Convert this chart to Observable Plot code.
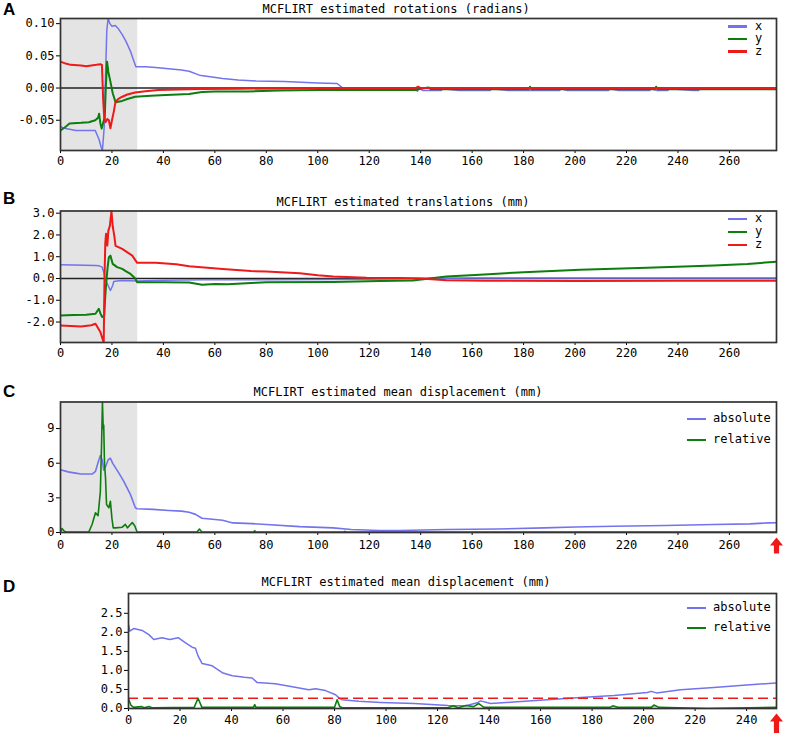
<!DOCTYPE html>
<html><head><meta charset="utf-8">
<script src="https://cdn.jsdelivr.net/npm/d3@7"></script>
<script src="https://cdn.jsdelivr.net/npm/@observablehq/plot@0.6"></script>
<style>
body{margin:0;background:#fff;}
#wrap{position:relative;width:786px;height:733px;overflow:hidden;background:#fff;}
.panel{position:absolute;left:0;}
.letter{position:absolute;left:3px;font:bold 17px "Liberation Sans",Arial,sans-serif;line-height:18px;color:#000;}
.legtext{position:absolute;font:12px "DejaVu Sans Mono",monospace;line-height:12px;color:#000;white-space:pre;}
.sw{position:absolute;height:2.5px;width:19px;}
</style></head><body><div id="wrap"></div>
<script>
// ---------- data (frame, value) ----------
const rotX = [[0,-0.060],[2,-0.063],[6,-0.066],[13.5,-0.066],[15,-0.080],[15.8,-0.092],[16.3,-0.097],[17,-0.060],[17.5,0.020],[18,0.090],[18.5,0.108],[19.2,0.100],[20,0.096],[21.3,0.097],[22.5,0.092],[24,0.083],[25.5,0.072],[27.2,0.057],[28.5,0.042],[29.3,0.033],[33,0.033],[37,0.032],[42,0.030],[47,0.028],[50,0.026],[54,0.020],[57.5,0.018],[63,0.015],[69,0.0125],[76,0.011],[87,0.010],[100,0.008],[107.5,0.007],[110,-0.001],[138,-0.001],[138.7,-0.005],[139.3,-0.001],[141,-0.004],[148,-0.004],[148.5,-0.001],[155,-0.004],[160,-0.004],[161,-0.004],[167,-0.004],[167.5,-0.001],[174,-0.004],[194,-0.004],[194.5,-0.001],[197,-0.004],[213,-0.004],[213.5,-0.001],[217,-0.004],[229,-0.004],[229.5,-0.001],[232,-0.004],[236,-0.004],[236.5,-0.001],[246,-0.004],[248,-0.004],[248.5,-0.001],[278.3,-0.001]];
const rotY = [[0,-0.066],[2,-0.060],[3.5,-0.055],[8,-0.054],[11,-0.053],[13.5,-0.050],[14.6,-0.046],[15,-0.040],[15.5,-0.055],[16,-0.063],[16.5,-0.055],[17.2,-0.045],[17.6,0.000],[18.1,0.041],[18.6,0.025],[19.4,0.010],[20.3,-0.008],[21.4,-0.022],[24,-0.020],[26,-0.017],[29,-0.0135],[35,-0.012],[41,-0.011],[50,-0.0094],[55,-0.006],[60,-0.0055],[73,-0.0052],[85,-0.004],[100,-0.003],[110,-0.003],[138,-0.003],[140,-0.001],[143,0.001],[144,-0.002],[182,-0.002],[182.5,0.002],[183,-0.002],[231,-0.002],[231.5,0.002],[232,-0.002],[278.3,-0.002]];
const rotZ = [[0,0.041],[2,0.038],[4,0.036],[8,0.035],[10,0.034],[12,0.035],[14,0.036],[15.5,0.037],[16.1,0.036],[16.3,0.015],[16.6,-0.020],[17,-0.045],[17.5,-0.053],[18.2,-0.048],[18.8,-0.050],[19.4,-0.0625],[20,-0.050],[20.7,-0.037],[21.4,-0.021],[22.5,-0.017],[24,-0.0135],[26,-0.010],[29,-0.0068],[33,-0.005],[38,-0.003],[50,-0.002],[55,-0.0015],[70,-0.001],[100,-0.0005],[110,0],[138,0],[139,0.002],[140,0],[278.3,0]];

const transX = [[0,0.63],[5,0.62],[13.6,0.60],[15,0.58],[16.2,0.52],[16.8,0.30],[17.5,-0.10],[18.5,-0.32],[19.4,-0.55],[20.3,-0.32],[20.7,-0.14],[22,-0.12],[24,-0.09],[30,-0.12],[40,-0.08],[55,-0.06],[80,-0.06],[106,-0.05],[120,-0.03],[140,0.0],[160,0.02],[200,0.02],[240,0.02],[278.3,0.02]];
const transY = [[0,-1.70],[5,-1.68],[10,-1.66],[13.6,-1.62],[14.9,-1.39],[15.5,-1.60],[16.2,-1.77],[17,-1.70],[17.3,-1.00],[17.7,-0.32],[18.3,0.50],[18.8,0.98],[19.4,1.05],[20.3,0.67],[22,0.52],[24,0.44],[25.5,0.33],[27.2,0.21],[28.9,0.02],[29.8,-0.17],[40,-0.17],[50,-0.18],[55,-0.29],[60,-0.25],[65,-0.27],[76,-0.20],[80,-0.17],[106,-0.16],[124,-0.12],[137,-0.09],[150,0.09],[163,0.17],[180,0.29],[202,0.40],[228,0.49],[254,0.60],[267,0.67],[278.3,0.77]];
const transZ = [[0,-2.16],[4,-2.18],[8,-2.20],[12,-2.15],[13.6,-2.08],[15.5,-2.46],[16.8,-2.95],[17.1,0.0],[17.4,1.60],[17.7,2.05],[18.2,1.51],[18.6,2.20],[19.2,2.43],[19.8,3.10],[20.3,2.40],[20.9,1.97],[21.4,1.50],[24,1.36],[26,1.20],[27.9,1.05],[29.8,0.72],[37,0.72],[45,0.65],[50,0.56],[63,0.44],[74,0.34],[80,0.32],[93,0.24],[100,0.15],[106,0.09],[119,0.03],[132,0.02],[140,0.0],[150,-0.08],[165,-0.10],[200,-0.12],[240,-0.10],[278.3,-0.10]];

const absC = [[0,5.43],[3,5.25],[5.8,5.14],[8,5.06],[12.3,5.06],[13.6,5.30],[14.9,6.28],[15.5,6.66],[16.2,6.30],[16.8,5.40],[17.5,5.70],[18.5,6.28],[19.4,6.43],[20.3,5.99],[22.7,5.14],[24.6,4.43],[27.2,3.28],[29.1,2.14],[29.8,2.06],[36,2.00],[42,1.91],[47,1.85],[50,1.75],[52.5,1.57],[55,1.23],[63,1.06],[67,0.83],[74.5,0.77],[80,0.69],[93,0.51],[106,0.40],[113,0.26],[124,0.17],[132,0.17],[150,0.26],[170,0.30],[188,0.40],[200,0.47],[215,0.54],[235,0.60],[254,0.69],[268,0.75],[275,0.83],[278.3,0.85]];
const relC = [[0,0.05],[0.6,0.34],[1.5,0.10],[2.5,0.03],[11,0.03],[12.3,0.71],[13.6,1.71],[14.6,1.45],[15.5,3.57],[16.0,8.0],[16.3,11.3],[16.6,9.0],[16.8,9.3],[17.1,6.0],[17.5,4.7],[17.9,2.43],[18.8,2.14],[19.4,2.71],[20,1.20],[20.5,0.40],[21.4,0.40],[24,0.46],[25.2,0.71],[26,0.40],[27.9,0.86],[28.9,0.57],[29.8,0.03],[53,0.03],[54,0.30],[55,0.03],[75,0.03],[75.5,0.15],[76,0.03],[110,0.03],[110.5,0.10],[111,0.03],[278.3,0.03]];

const absD = [[0,2.20],[0.5,2.03],[2,2.10],[5.3,2.05],[7.9,1.94],[9.8,1.81],[13,1.86],[16,1.81],[19.3,1.86],[22,1.73],[24.7,1.61],[26,1.58],[27,1.38],[28.6,1.18],[32.5,1.12],[36.4,0.94],[40.3,0.86],[45,0.82],[48,0.80],[50,0.68],[57,0.65],[63.6,0.57],[70,0.49],[72.6,0.52],[76.5,0.47],[80.4,0.36],[81.7,0.28],[83,0.23],[89.4,0.19],[98,0.16],[111,0.13],[124,0.08],[131,0.07],[135.4,0.15],[136.7,0.20],[140.6,0.13],[149.6,0.17],[162.6,0.23],[175.5,0.29],[188.5,0.34],[201.4,0.42],[203,0.45],[205,0.41],[214.4,0.49],[227.3,0.55],[240,0.62],[251.6,0.67]];
const relD = [[0,0.25],[1,0.08],[2,0.03],[5,0.05],[6,0.02],[8,0.05],[9,0.02],[25.5,0.03],[27,0.27],[28.5,0.03],[48.5,0.03],[49,0.10],[49.5,0.03],[80,0.03],[81,0.23],[82,0.05],[83,0.02],[124,0.02],[126,0.07],[128,0.02],[131,0.08],[134,0.05],[136,0.13],[138,0.03],[187,0.03],[188,0.07],[190,0.03],[203,0.03],[204,0.09],[206,0.03],[225,0.0],[251.6,0.03]];
const thresholdD = [0.27];

const shadedFrames = [0, 30];
const lastFrameC = [278.3];
const lastFrameD = [251.6];

const xTicks260 = [0,20,40,60,80,100,120,140,160,180,200,220,240,260];
const xTicks240 = [0,20,40,60,80,100,120,140,160,180,200,220,240];
const yTicksA = [-0.05,0,0.05,0.10];
const yTicksB = [-2,-1,0,1,2,3];
const yTicksC = [0,3,6,9];
const yTicksD = [0,0.5,1,1.5,2,2.5];

const titleA = "MCFLIRT estimated rotations (radians)";
const titleB = "MCFLIRT estimated translations (mm)";
const titleC = "MCFLIRT estimated mean displacement (mm)";
const titleD = "MCFLIRT estimated mean displacement (mm)";
const legendXYZ = ["x","y","z"];
const legendAR = ["absolute","relative"];
const panelLetters = ["A","B","C","D"];

// ---------- styles ----------
const BLUE = "#7373ee", GREEN = "#0d7d0d", RED = "#ee1a1a", SHADE = "#e4e4e4";

const upArrow = {
  draw(ctx, l) {
    const hw = 6.5, sw = 2.6, hl = 8;
    ctx.moveTo(-sw, 0);
    ctx.lineTo(-sw, -l + hl);
    ctx.lineTo(-hw, -l + hl);
    ctx.lineTo(0, -l);
    ctx.lineTo(hw, -l + hl);
    ctx.lineTo(sw, -l + hl);
    ctx.lineTo(sw, 0);
    ctx.closePath();
  }
};

const wrap = document.getElementById("wrap");

function panel(cfg) {
  const marks = [];
  if (cfg.shade) marks.push(Plot.rect([cfg.shade], {x1: d => d[0], x2: d => d[1], fill: SHADE}));
  if (cfg.zero) marks.push(Plot.ruleY([0], {stroke: "#222", strokeWidth: 1.6}));
  for (const s of cfg.series) {
    marks.push(Plot.line(s.data, {x: d => d[0], y: d => d[1], stroke: s.color, strokeWidth: s.width || 1.6, clip: true}));
  }
  if (cfg.threshold) marks.push(Plot.ruleY(cfg.threshold, {stroke: RED, strokeWidth: 1.6, strokeDasharray: "10,5"}));
  marks.push(Plot.frame({stroke: "#333", strokeWidth: 1.7}));
  marks.push(Plot.text([cfg.title], {text: d => d, frameAnchor: "top-left", lineAnchor: "middle", dx: cfg.titleLeft - cfg.marginLeft, dy: cfg.titleDy, textAnchor: "start", fontSize: 12, fill: "#000"}));
  if (cfg.arrow) marks.push(Plot.vector(cfg.arrow, {x: d => d, frameAnchor: "bottom", dy: cfg.arrowDy, length: cfg.arrowLen, anchor: "start", shape: upArrow, fill: RED, stroke: "none"}));
  const svg = Plot.plot({
    width: 786, height: cfg.height,
    marginTop: cfg.marginTop, marginBottom: cfg.marginBottom, marginLeft: cfg.marginLeft, marginRight: 10,
    style: {fontFamily: "DejaVu Sans Mono, monospace", fontSize: "12px", background: "transparent", color: "#000"},
    x: {domain: cfg.xDomain, ticks: cfg.xTicks, tickFormat: d => String(d), tickSize: 3, tickPadding: cfg.tickPadX, label: null},
    y: {domain: cfg.yDomain, ticks: cfg.yTicks, tickFormat: cfg.yFmt, tickSize: 4, tickPadding: 2, label: null},
    marks
  });
  const div = document.createElement("div");
  div.className = "panel";
  div.style.top = cfg.top + "px";
  div.appendChild(svg);
  wrap.appendChild(div);
}

panel({top: 0, height: 172, marginTop: 18, marginBottom: 22, marginLeft: 60,
  xDomain: [0, 278.3], yDomain: [-0.097, 0.108], xTicks: xTicks260, yTicks: yTicksA, yFmt: d => d.toFixed(2),
  shade: shadedFrames, zero: true, tickPadX: 3,
  series: [{data: rotX, color: BLUE, width: 1.5}, {data: rotY, color: GREEN, width: 2}, {data: rotZ, color: RED, width: 2}],
  title: titleA, titleLeft: 262, titleDy: -9});

panel({top: 190, height: 176, marginTop: 20.5, marginBottom: 24, marginLeft: 60,
  xDomain: [0, 278.3], yDomain: [-2.94, 3.1], xTicks: xTicks260, yTicks: yTicksB, yFmt: d => d.toFixed(1),
  shade: shadedFrames, zero: true, tickPadX: 3,
  series: [{data: transX, color: BLUE, width: 1.5}, {data: transY, color: GREEN, width: 2}, {data: transZ, color: RED, width: 2}],
  title: titleB, titleLeft: 276, titleDy: -8.5});

panel({top: 380, height: 175, marginTop: 21.5, marginBottom: 23, marginLeft: 60,
  xDomain: [0, 278.3], yDomain: [0, 11.3], xTicks: xTicks260, yTicks: yTicksC, yFmt: d => String(d),
  shade: shadedFrames, zero: false, tickPadX: 5,
  series: [{data: absC, color: BLUE, width: 1.6}, {data: relC, color: GREEN, width: 1.6}],
  title: titleC, titleLeft: 253, titleDy: -10,
  arrow: lastFrameC, arrowDy: 21, arrowLen: 16});

panel({top: 572, height: 161, marginTop: 21, marginBottom: 25, marginLeft: 128,
  xDomain: [0, 251.6], yDomain: [0, 3.02], xTicks: xTicks240, yTicks: yTicksD, yFmt: d => d.toFixed(1),
  zero: false, tickPadX: 4, threshold: thresholdD,
  series: [{data: absD, color: BLUE, width: 1.5}, {data: relD, color: GREEN, width: 1.6}],
  title: titleD, titleLeft: 261, titleDy: -11,
  arrow: lastFrameD, arrowDy: 25, arrowLen: 20});

// ---------- legends & panel letters ----------
function legend(items, colors, swLeft, textLeft, ys) {
  items.forEach((t, i) => {
    const sw = document.createElement("div");
    sw.className = "sw";
    sw.style.left = swLeft + "px";
    sw.style.top = (ys[i] - 1.25) + "px";
    sw.style.background = colors[i];
    wrap.appendChild(sw);
    const tx = document.createElement("div");
    tx.className = "legtext";
    tx.style.left = textLeft + "px";
    tx.style.top = (ys[i] - 7) + "px";
    tx.textContent = t;
    wrap.appendChild(tx);
  });
}
legend(legendXYZ, [BLUE, GREEN, RED], 728, 755, [26.5, 39, 51.5]);
legend(legendXYZ, [BLUE, GREEN, RED], 728, 755, [219, 232, 245]);
legend(legendAR, [BLUE, GREEN], 687, 713, [419, 440]);
legend(legendAR, [BLUE, GREEN], 687, 713, [608, 628]);

const letterY = [1, 190, 383, 578];
panelLetters.forEach((L, i) => {
  const d = document.createElement("div");
  d.className = "letter";
  d.style.top = letterY[i] + "px";
  d.textContent = L;
  wrap.appendChild(d);
});
</script></body></html>
